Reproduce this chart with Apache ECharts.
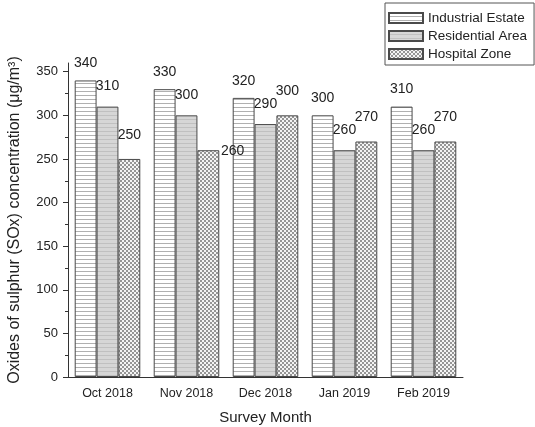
<!DOCTYPE html>
<html>
<head>
<meta charset="utf-8">
<script src="https://cdn.jsdelivr.net/npm/echarts@6/dist/echarts.min.js"></script>
<style>
  html, body { margin: 0; padding: 0; background: #fff; }
  #chart { width: 535px; height: 427px; }
</style>
</head>
<body>
<div id="chart"></div>
<script>
// Survey months and SOx concentrations (µg/m³) per monitoring site
const months = ['Oct 2018', 'Nov 2018', 'Dec 2018', 'Jan 2019', 'Feb 2019'];
const industrialEstate = [340, 330, 320, 300, 310];
const residentialArea = [310, 300, 290, 260, 260];
const hospitalZone = [250, 260, 300, 270, 270];
const yTickValues = [0, 50, 100, 150, 200, 250, 300, 350];
const yMinorTickValues = [25, 75, 125, 175, 225, 275, 325];

const FONT = 'Arial, "Liberation Sans", sans-serif';
const EDGE = '#4a4a4a';

// Fill patterns for the bars
function makePattern(w, h, draw) {
  const c = document.createElement('canvas');
  c.width = w; c.height = h;
  const ctx = c.getContext('2d');
  draw(ctx);
  return { image: c, repeat: 'repeat' };
}
const stripesLight = makePattern(4, 4, ctx => {
  ctx.fillStyle = '#ffffff'; ctx.fillRect(0, 0, 4, 4);
  ctx.fillStyle = '#b0b0b0'; ctx.fillRect(0, 3, 4, 1);
});
const stripesGrey = makePattern(4, 4, ctx => {
  ctx.fillStyle = '#d6d6d6'; ctx.fillRect(0, 0, 4, 4);
  ctx.fillStyle = '#c0c0c0'; ctx.fillRect(0, 3, 4, 1);
});
const checker = makePattern(4, 4, ctx => {
  ctx.fillStyle = '#f4f4f4'; ctx.fillRect(0, 0, 4, 4);
  ctx.fillStyle = '#959595';
  ctx.fillRect(0, 0, 2, 2);
  ctx.fillRect(2, 2, 2, 2);
});

function barSeries(name, values, fill, labelDistance) {
  return {
    name: name,
    type: 'bar',
    data: values.slice(),
    itemStyle: { color: fill, borderColor: EDGE, borderWidth: 1 },
    label: {
      show: true,
      position: 'top',
      distance: labelDistance,
      fontFamily: FONT,
      fontSize: 14,
      color: '#222'
    },
    emphasis: { disabled: true }
  };
}

const hospitalSeries = barSeries('Hospital Zone', hospitalZone, checker, 17);
// The November hospital label sits beside the bar top
hospitalSeries.data[1] = {
  value: hospitalZone[1],
  label: { position: ['108%', -6] }
};

const option = {
  animation: false,
  backgroundColor: '#fff',
  textStyle: { fontFamily: FONT },
  grid: { left: 68, right: 72, top: 63, bottom: 50, outerBoundsMode: 'none', containLabel: false },
  legend: {
    orient: 'vertical',
    left: 385,
    top: 3,
    align: 'left',
    itemWidth: 34,
    itemHeight: 10,
    itemGap: 4,
    padding: [8, 7, 4, 3],
    borderColor: '#555',
    borderWidth: 1,
    icon: 'rect',
    textStyle: { fontFamily: FONT, fontSize: 13.5, color: '#222' },
    data: ['Industrial Estate', 'Residential Area', 'Hospital Zone']
  },
  xAxis: [
    {
      type: 'category',
      data: months,
      position: 'bottom',
      name: 'Survey Month',
      nameLocation: 'middle',
      nameGap: 33,
      nameTextStyle: { fontFamily: FONT, fontSize: 15, color: '#222' },
      axisLine: { lineStyle: { color: '#333', width: 1 } },
      axisTick: { alignWithLabel: true, length: 6, lineStyle: { color: '#333' } },
      axisLabel: { fontFamily: FONT, fontSize: 12.5, color: '#222', margin: 10 }
    },
    {
      // boundary ticks between months
      type: 'category',
      data: months,
      position: 'bottom',
      axisLine: { show: false },
      axisTick: { length: 3, lineStyle: { color: '#333' } },
      axisLabel: { show: false }
    }
  ],
  yAxis: [
    {
      type: 'value',
      position: 'left',
      min: 0,
      max: 360,
      interval: 50,
      name: 'Oxides of sulphur (SOx) concentration (μg/m³)',
      nameLocation: 'middle',
      nameGap: 45,
      nameTextStyle: { fontFamily: FONT, fontSize: 16, color: '#222' },
      axisLine: { show: true, lineStyle: { color: '#333', width: 1 } },
      axisTick: { show: true, length: 5, customValues: yTickValues, lineStyle: { color: '#333' } },
      axisLabel: { fontFamily: FONT, fontSize: 13, color: '#222', margin: 10, customValues: yTickValues },
      splitLine: { show: false }
    },
    {
      // minor ticks halfway between labelled values
      type: 'value',
      position: 'left',
      min: 0,
      max: 360,
      interval: 25,
      axisLine: { show: false },
      axisTick: { show: true, length: 3, customValues: yMinorTickValues, lineStyle: { color: '#333' } },
      axisLabel: { show: false },
      splitLine: { show: false }
    }
  ],
  series: [
    Object.assign(barSeries('Industrial Estate', industrialEstate, stripesLight, 10), { barGap: '0%', barCategoryGap: '17%' }),
    barSeries('Residential Area', residentialArea, stripesGrey, 13),
    hospitalSeries
  ]
};

const chart = echarts.init(document.getElementById('chart'), null, { renderer: 'canvas' });
chart.setOption(option);
</script>
</body>
</html>
